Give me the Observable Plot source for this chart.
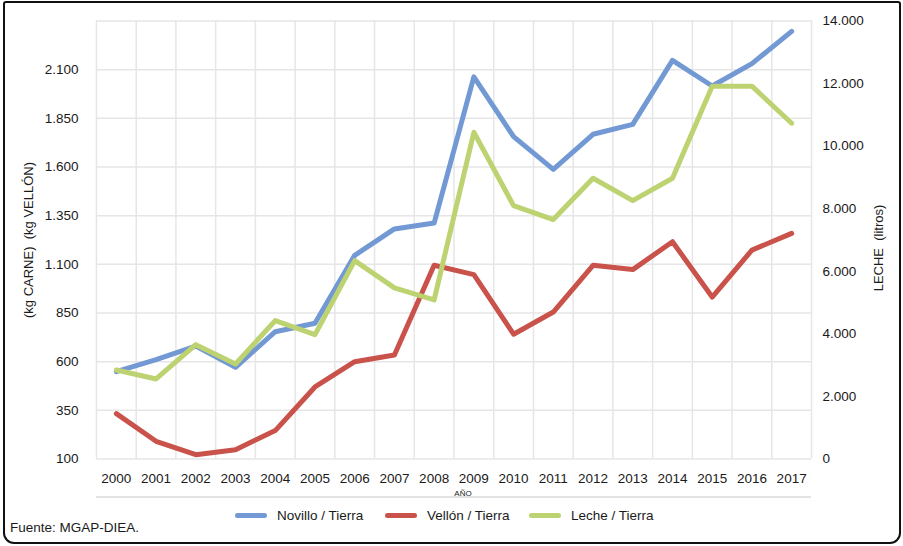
<!DOCTYPE html>
<html>
<head>
<meta charset="utf-8">
<script src="https://cdn.jsdelivr.net/npm/d3@7"></script>
<script src="https://cdn.jsdelivr.net/npm/@observablehq/plot@0.6"></script>
<style>
  html, body { margin: 0; padding: 0; background: #fff; }
  body { width: 903px; height: 546px; position: relative; overflow: hidden;
         font-family: "Liberation Sans Narrow", "Liberation Sans", Arial, sans-serif; color: #1a1a1a; }
  #frame { position: absolute; left: 3px; top: 1px; width: 894px; height: 539px;
           border: 2.5px solid #111; border-radius: 3px 3px 11px 11px; pointer-events: none; }
  #chart { position: absolute; left: 0; top: 0; }
  #sep { position: absolute; left: 96px; top: 496px; width: 715px; height: 1.5px; background: #e3e3e3; }
  #xtitle { position: absolute; left: 463px; top: 489px; transform: translateX(-50%); font-size: 8px; }
  #legend { position: absolute; top: 508px; left: 0; width: 903px; height: 20px; }
  .item { position: absolute; display: flex; align-items: center; font-size: 13.5px; white-space: nowrap; }
  .sw { width: 32px; height: 5.5px; border-radius: 3px; margin-right: 10px; }
  #source { position: absolute; left: 10px; top: 520px; font-size: 13.5px; }
</style>
</head>
<body>
<div id="chart"></div>
<div id="sep"></div>
<div id="xtitle">AÑO</div>
<div id="legend"></div>
<div id="source">Fuente: MGAP-DIEA.</div>
<div id="frame"></div>
<script>
// ---- data ----
const years = [2000, 2001, 2002, 2003, 2004, 2005, 2006, 2007, 2008, 2009, 2010, 2011, 2012, 2013, 2014, 2015, 2016, 2017];
const novillo = [549, 610, 680, 571, 754, 797, 1146, 1282, 1312, 2063, 1756, 1588, 1768, 1819, 2148, 2016, 2131, 2297];
const vellon  = [333, 191, 122, 148, 246, 470, 600, 634, 1095, 1047, 741, 855, 1095, 1073, 1216, 932, 1173, 1259];
const leche   = [2846, 2558, 3655, 3038, 4423, 3975, 6342, 5469, 5085, 10445, 8100, 7653, 8974, 8260, 8974, 11916, 11916, 10733];
const seriesNames = ["Novillo / Tierra", "Vellón / Tierra", "Leche / Tierra"];
const seriesColors = ["#7299D3", "#C9524A", "#BDD270"];
const leftTicks = [100, 350, 600, 850, 1100, 1350, 1600, 1850, 2100];
const leftGrid = [100, 350, 600, 850, 1100, 1350, 1600, 1850, 2100, 2350];
const rightTicks = [0, 2000, 4000, 6000, 8000, 10000, 12000, 14000];
const leftDomain = [100, 2350];
const rightDomain = [0, 14000];
const leftTitle = "(kg CARNE)  (kg VELLÓN)";
const rightTitle = "LECHE  (litros)";

// ---- helpers ----
const fmt = d3.formatLocale({decimal: ",", thousands: ".", grouping: [3], currency: ["", ""]}).format(",");
const k = (leftDomain[1] - leftDomain[0]) / (rightDomain[1] - rightDomain[0]);
const toLeft = v => leftDomain[0] + (v - rightDomain[0]) * k;
const fromLeft = v => Math.round(rightDomain[0] + (v - leftDomain[0]) / k);

const rows = [];
years.forEach((y, i) => {
  rows.push({year: y, value: novillo[i], s: seriesNames[0]});
  rows.push({year: y, value: vellon[i], s: seriesNames[1]});
  rows.push({year: y, value: toLeft(leche[i]), s: seriesNames[2]});
});

const font = '"Liberation Sans Narrow", "Liberation Sans", Arial, sans-serif';
const gridColor = "#e6e6e6";
const tickFont = 13.5;

const plot = Plot.plot({
  width: 903,
  height: 546,
  marginLeft: 96,
  marginRight: 92,
  marginTop: 20.5,
  marginBottom: 87.5,
  style: {fontFamily: font, fontSize: tickFont + "px", color: "#1a1a1a", background: "transparent"},
  x: {domain: [years[0] - 0.5, years[years.length - 1] + 0.5], axis: null},
  y: {domain: leftDomain, axis: null},
  color: {domain: seriesNames, range: seriesColors},
  marks: [
    Plot.ruleY(leftGrid, {stroke: gridColor, strokeWidth: 1.5}),
    Plot.ruleX([years[0] - 0.5, ...years.map(y => y + 0.5)], {stroke: gridColor, strokeWidth: 1.5}),
    Plot.axisY({ticks: leftTicks, tickSize: 0, tickPadding: 18, tickFormat: fmt, anchor: "left", label: null, fontSize: tickFont}),
    Plot.axisY({ticks: rightTicks.map(toLeft), tickSize: 0, tickPadding: 11, tickFormat: d => fmt(fromLeft(d)), anchor: "right", label: null, fontSize: tickFont}),
    Plot.axisX({ticks: years, tickSize: 0, tickPadding: 14, tickFormat: d => String(d), anchor: "bottom", label: null, fontSize: tickFont}),
    Plot.text([leftTitle], {frameAnchor: "left", dx: -68, rotate: -90, textAnchor: "middle", fontSize: 13, fill: "#1a1a1a"}),
    Plot.text([rightTitle], {frameAnchor: "right", dx: 67, dy: 8, rotate: -90, textAnchor: "middle", fontSize: 13, fill: "#1a1a1a"}),
    Plot.lineY(rows, {x: "year", y: "value", z: "s", stroke: "s", strokeWidth: 5, strokeLinejoin: "round", strokeLinecap: "round"})
  ]
});
document.getElementById("chart").appendChild(plot);

// legend
const legend = document.getElementById("legend");
const legendX = [235, 385, 529];
seriesNames.forEach((name, i) => {
  const it = document.createElement("div");
  it.className = "item";
  it.style.left = legendX[i] + "px";
  it.innerHTML = `<span class="sw" style="background:${seriesColors[i]}"></span><span>${name}</span>`;
  legend.appendChild(it);
});
</script>
</body>
</html>
